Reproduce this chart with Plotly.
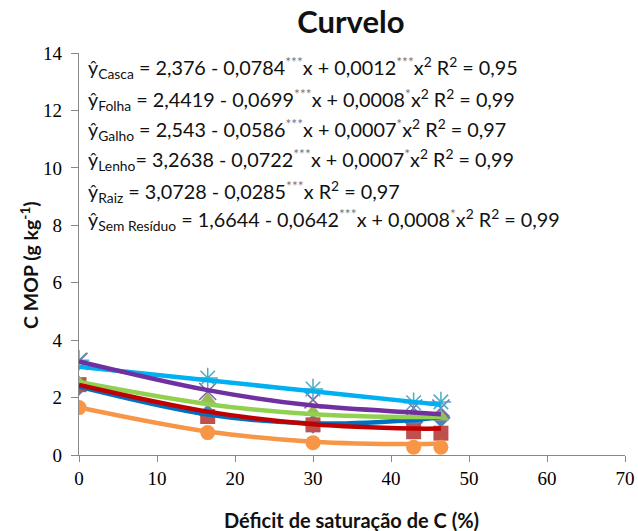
import plotly.graph_objects as go

# Data
x_vals = [0, 16.5, 30, 42.9, 46.4]

casca_pts = [2.40, 1.42, 1.08, 1.15, 1.30]
folha_pts = [2.45, 1.34, 1.05, 0.81, 0.76]
galho_pts = [2.52, 1.92, 1.50, 1.33, 1.33]
lenho_pts = [3.26, 2.21, 1.92, 1.64, 1.64]
raiz_pts = [3.30, 2.68, 2.30, 1.82, 1.85]
sem_pts = [1.65, 0.78, 0.43, 0.27, 0.27]

# fitted trend-line heights read at the same x positions
casca_fit = [2.38, 1.41, 1.10, 1.22, 1.32]
folha_fit = [2.44, 1.51, 1.07, 0.92, 0.92]
galho_fit = [2.54, 1.77, 1.42, 1.32, 1.33]
lenho_fit = [3.26, 2.26, 1.72, 1.48, 1.42]
raiz_fit = [3.07, 2.60, 2.22, 1.85, 1.75]
sem_fit = [1.66, 0.82, 0.46, 0.38, 0.40]

y_ticks = [0, 2, 4, 6, 8, 10, 12, 14]

equations = [
    "ŷ<sub>Casca</sub> = 2,376 - 0,0784{s}x + 0,0012{s}x<sup>2</sup> R<sup>2</sup> = 0,95",
    "ŷ<sub>Folha</sub> = 2,4419 - 0,0699{s}x + 0,0008{o}x<sup>2</sup> R<sup>2</sup> = 0,99",
    "ŷ<sub>Galho</sub> = 2,543 - 0,0586{s}x + 0,0007{o}x<sup>2</sup> R<sup>2</sup> = 0,97",
    "ŷ<sub>Lenho</sub>= 3,2638 - 0,0722{s}x + 0,0007{o}x<sup>2</sup> R<sup>2</sup> = 0,99",
    "ŷ<sub>Raiz</sub> = 3,0728 - 0,0285{s}x R<sup>2</sup> = 0,97",
    "ŷ<sub>Sem Resíduo</sub> = 1,6644 - 0,0642{s}x + 0,0008{o}x<sup>2</sup> R<sup>2</sup> = 0,99",
]
eq_y = [13.48, 12.37, 11.32, 10.28, 9.16, 8.19]

star3 = '<sup><span style="color:#777777">***</span></sup>'
star1 = '<sup><span style="color:#777777">*</span></sup>'

fig = go.Figure()

marker_series = [
    (casca_pts, "diamond", "#4F81BD", None),
    (folha_pts, "square", "#C0504D", None),
    (galho_pts, "triangle-up", "#9BBB59", None),
    (lenho_pts, "x-thin", "#8064A2", 1.5),
    (raiz_pts, "asterisk", "#4BACC6", 1.5),
    (sem_pts, "circle", "#F79646", None),
]
for ys, sym, col, lw in marker_series:
    if lw:
        mk = dict(symbol=sym, size=17, color=col, line=dict(color=col, width=lw))
    else:
        mk = dict(symbol=sym, size=15, color=col, line=dict(width=0))
    fig.add_trace(go.Scatter(x=x_vals, y=ys, mode="markers", marker=mk,
                             showlegend=False, hoverinfo="skip"))

fit_series = [
    (casca_fit, "#0070C0"),
    (galho_fit, "#92D050"),
    (folha_fit, "#C00000"),
    (raiz_fit, "#00B0F0"),
    (lenho_fit, "#7030A0"),
    (sem_fit, "#F79646"),
]
for ys, col in fit_series:
    fig.add_trace(go.Scatter(x=x_vals, y=ys, mode="lines",
                             line=dict(color=col, width=4.5, shape="spline"),
                             showlegend=False, hoverinfo="skip"))

# invisible companion trace so the label-only y axis is drawn
fig.add_trace(go.Scatter(x=x_vals[:1], y=y_ticks[:1], yaxis="y2", mode="markers",
                         marker=dict(opacity=0), showlegend=False, hoverinfo="skip"))

for txt, yy in zip(equations, eq_y):
    fig.add_annotation(x=0.9, y=yy, xref="x", yref="y",
                       text=txt.format(s=star3, o=star1),
                       showarrow=False, xanchor="left", yanchor="middle",
                       font=dict(family="Lato", size=19.8, color="#111111"))

fig.add_annotation(x=-0.0568, y=0.473, xref="paper", yref="paper",
                   text="<b>C MOP (g kg<sup>-1</sup>)</b>", textangle=-90,
                   showarrow=False, xanchor="center", yanchor="middle",
                   font=dict(family="Lato", size=19.5, color="#111111"))
fig.add_annotation(x=0.515, y=-0.162, xref="paper", yref="paper",
                   text="<b>Déficit de saturação de C (%)</b>",
                   showarrow=False, xanchor="center", yanchor="middle",
                   font=dict(family="Lato", size=20, color="#111111"))

tickfont = dict(family="Liberation Serif, serif", size=19, color="#000000")
fig.update_layout(
    width=638, height=531,
    margin=dict(l=62, r=13, t=53, b=76),
    paper_bgcolor="white", plot_bgcolor="white",
    title=dict(text="<b>Curvelo</b>", x=0.55, xanchor="center", y=0.958, yanchor="middle",
               font=dict(family="Lato", size=31, color="#111111")),
    xaxis=dict(domain=[0.0302, 1], range=[0, 70], dtick=10, showgrid=False, zeroline=False,
               showline=True, linecolor="#888888", linewidth=1, automargin=False,
               ticks="outside", ticklen=6, tickcolor="#888888",
               tickfont=tickfont),
    yaxis=dict(range=[0, 14], tickmode="array", tickvals=y_ticks,
               showticklabels=False, showgrid=False, zeroline=False,
               showline=True, linecolor="#888888", linewidth=1, automargin=False,
               ticks="outside", ticklen=7, tickcolor="#888888"),
    yaxis2=dict(range=[0, 14], tickmode="array", tickvals=y_ticks,
                overlaying="y", anchor="free", position=0, side="left",
                showgrid=False, zeroline=False, showline=False, ticks="",
                automargin=False, tickfont=tickfont),
)

fig.write_html("out.html")
